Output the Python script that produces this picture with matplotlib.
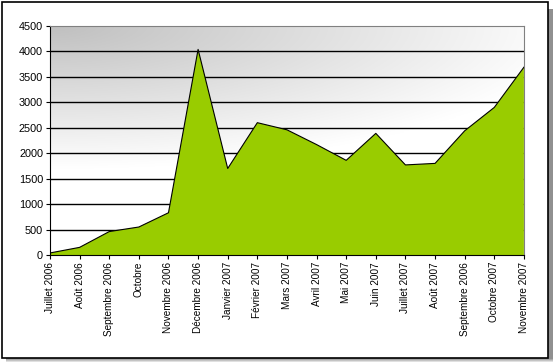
import numpy as np
import matplotlib.pyplot as plt
from matplotlib.patches import Rectangle

plt.rcParams['font.family'] = ['Liberation Sans', 'DejaVu Sans']

## données
mois = ['Juillet 2006', 'Août 2006', 'Septembre 2006', 'Octobre', 'Novembre 2006',
        'Décembre 2006', 'Janvier 2007', 'Février 2007', 'Mars 2007', 'Avril 2007',
        'Mai 2007', 'Juin 2007', 'Juillet 2007', 'Août 2007', 'Septembre 2006',
        'Octobre 2007', 'Novembre 2007']
visites = [40, 150, 460, 550, 830, 4040, 1700, 2600, 2460, 2170,
           1860, 2390, 1770, 1800, 2440, 2900, 3690]
yticks = [0, 500, 1000, 1500, 2000, 2500, 3000, 3500, 4000, 4500]

W, H = 553, 362
fig = plt.figure(figsize=(W / 100, H / 100), dpi=100)
fig.patch.set_facecolor('white')

# ombre douce en bas / à droite (en pixels)
for i, c in enumerate(['#e0e0e0', '#c4c4c4', '#a8a8a8', '#909090']):
    off = 4 - i
    fig.patches.append(Rectangle(((6 + 0) / W, (H - 358 - off) / H),
                                 (546 + off) / W, (350) / H,
                                 transform=fig.transFigure, facecolor=c,
                                 edgecolor='none', zorder=0))
# cadre
fig.patches.append(Rectangle((2 / W, (H - 358) / H), 546 / W, 356 / H,
                             transform=fig.transFigure, facecolor='white',
                             edgecolor='black', linewidth=1.2, zorder=1))

ax = fig.add_axes([0.0904, 0.2956, 0.857, 0.6326])
ax.set_zorder(2)

# fond en dégradé gris -> blanc (sombre en haut à gauche)
xs = np.linspace(0, 1, 200)
ys = np.linspace(0, 1, 200)
X, Y = np.meshgrid(xs, ys)
d = np.sqrt((X * 0.9) ** 2 + (Y * 1.6) ** 2)
g = 0.75 + 0.25 * np.clip(d, 0, 1)
img = np.dstack([g, g, g])
ax.imshow(img, extent=[0, len(mois) - 1, 0, 4500], origin='upper', aspect='auto',
          zorder=0, interpolation='bilinear')

x = np.arange(len(mois))
for yv in yticks[1:-1]:
    ax.axhline(yv, color='black', linewidth=1, zorder=1)
ax.fill_between(x, visites, 0, color='#99cc00', edgecolor='none', zorder=2)
ax.plot(x, visites, color='black', linewidth=0.8, zorder=3)

ax.set_xlim(0, len(mois) - 1)
ax.set_ylim(0, 4500)
ax.set_yticks(yticks)
ax.set_yticklabels([str(v) for v in yticks], fontsize=7.8)
ax.set_xticks(x)
ax.set_xticklabels(mois, rotation=90, fontsize=7.2)
ax.tick_params(axis='both', direction='out', length=3, width=0.8, pad=2)

ax.spines['left'].set_color('black')
ax.spines['bottom'].set_color('black')
ax.spines['top'].set_color('#808080')
ax.spines['right'].set_color('#808080')

fig.savefig('out.png', dpi=100)
